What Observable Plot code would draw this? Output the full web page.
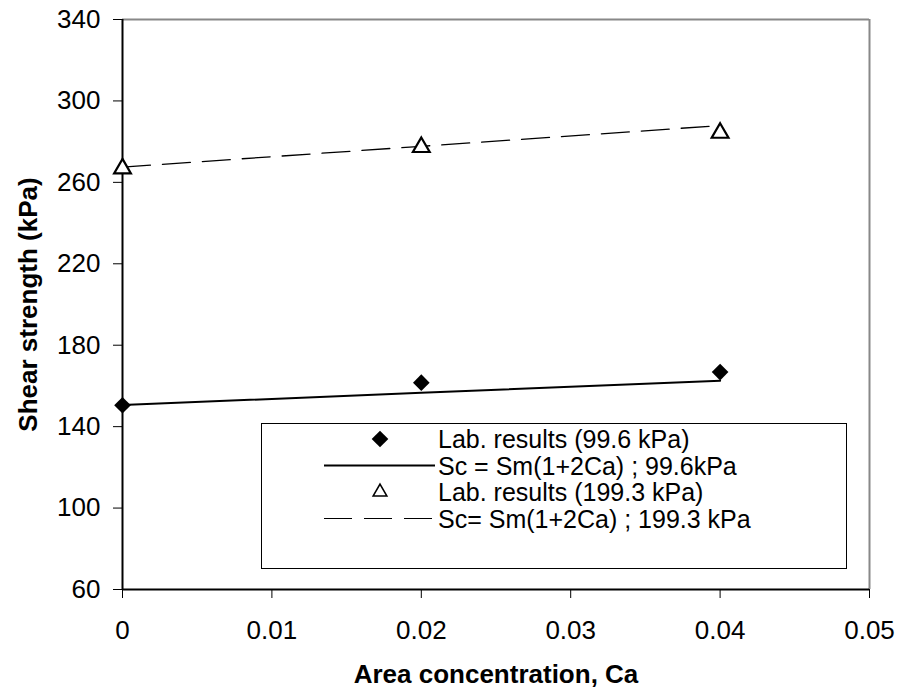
<!DOCTYPE html>
<html>
<head>
<meta charset="utf-8">
<script src="https://cdn.jsdelivr.net/npm/d3@7"></script>
<script src="https://cdn.jsdelivr.net/npm/@observablehq/plot@0.6"></script>
<style>
  body { margin: 0; background: #fff; }
  #wrap { position: relative; width: 902px; height: 700px; font-family: "Liberation Sans", Arial, sans-serif; }
  #legend { position: absolute; left: 261px; top: 423px; width: 586px; height: 146px; border: 1px solid #000; background: #fff; box-sizing: border-box; }
  #legend svg { position: absolute; left: 0; top: 0; }
</style>
</head>
<body>
<div id="wrap"></div>
<script>
// Data
const areaConc = [0, 0.02, 0.04];
const lab996 = [150.5, 161.6, 166.8];
const fit996 = [150.6, 156.6, 162.6];
const lab1993 = [266.8, 277.3, 284.3];
const fit1993 = [267.5, 277.7, 287.9];
const xTicks = [0, 0.01, 0.02, 0.03, 0.04, 0.05];
const xTickLabels = ["0", "0.01", "0.02", "0.03", "0.04", "0.05"];
const yTicks = [60, 100, 140, 180, 220, 260, 300, 340];
const legendLabels = [
  "Lab. results (99.6 kPa)",
  "Sc = Sm(1+2Ca) ; 99.6kPa",
  "Lab. results (199.3 kPa)",
  "Sc= Sm(1+2Ca) ; 199.3 kPa"
];
const xTitle = "Area concentration, Ca";
const yTitle = "Shear strength (kPa)";

const rows = (ys) => areaConc.map((x, i) => ({x, y: ys[i]}));

const chart = Plot.plot({
  width: 902,
  height: 700,
  marginLeft: 122,
  marginRight: 33,
  marginTop: 19,
  marginBottom: 111,
  style: {fontFamily: "Liberation Sans, Arial, sans-serif", fontSize: "26px", color: "#000", background: "#fff", overflow: "visible"},
  x: {domain: [0, 0.05]},
  y: {domain: [60, 340]},
  marks: [
    Plot.axisX({ticks: xTicks, tickFormat: (d, i) => xTickLabels[i], tickSize: 9, tickPadding: 22, label: null, fontSize: 26}),
    Plot.axisY({ticks: yTicks, tickSize: 9, tickPadding: 13, label: null, fontSize: 26}),
    Plot.ruleY([340], {stroke: "#888", strokeWidth: 2}),
    Plot.ruleX([0.05], {stroke: "#888", strokeWidth: 2}),
    Plot.ruleX([0], {stroke: "#000", strokeWidth: 2}),
    Plot.ruleY([60], {stroke: "#000", strokeWidth: 2}),
    Plot.line(rows(fit996), {x: "x", y: "y", stroke: "#000", strokeWidth: 2}),
    Plot.line(rows(fit1993), {x: "x", y: "y", stroke: "#000", strokeWidth: 1.3, strokeDasharray: "28,12"}),
    Plot.dot(rows(lab996), {x: "x", y: "y", symbol: "diamond2", r: 7.5, fill: "#000", stroke: "none"}),
    Plot.dot(rows(lab1993), {x: "x", y: "y", symbol: "triangle2", r: 8, fill: "#fff", stroke: "#000", strokeWidth: 2.2}),
    Plot.text([xTitle], {frameAnchor: "bottom", dy: 93, fontWeight: "bold", fontSize: 26, fill: "#000"}),
    Plot.text([yTitle], {frameAnchor: "left", textAnchor: "middle", rotate: -90, dx: -94, fontWeight: "bold", fontSize: 26, fill: "#000"})
  ]
});

const wrap = document.getElementById("wrap");
wrap.appendChild(chart);

// Legend
const lg = document.createElement("div");
lg.id = "legend";
wrap.appendChild(lg);
const W = 586, H = 146;
const svg = d3.select(lg).append("svg").attr("width", W).attr("height", H);
const rowY = [15, 41.5, 68, 94.5];
const symX = 118;
const txtX = 176;
legendLabels.forEach((t, i) => {
  svg.append("text").attr("x", txtX).attr("y", rowY[i]).attr("dy", "0.36em")
    .attr("font-family", "Liberation Sans, Arial, sans-serif").attr("font-size", 25).attr("fill", "#000").text(t);
});
// diamond
svg.append("path").attr("transform", `translate(${symX},${rowY[0]})`)
  .attr("d", d3.symbol(d3.symbolDiamond2, Math.PI * 7.5 * 7.5)()).attr("fill", "#000");
// solid line
svg.append("line").attr("x1", 62).attr("x2", 173).attr("y1", rowY[1]).attr("y2", rowY[1]).attr("stroke", "#000").attr("stroke-width", 2);
// triangle
svg.append("path").attr("transform", `translate(${symX},${rowY[2]})`)
  .attr("d", d3.symbol(d3.symbolTriangle2, Math.PI * 6.5 * 6.5)()).attr("fill", "#fff").attr("stroke", "#000").attr("stroke-width", 1.6);
// dashed line
svg.append("line").attr("x1", 62).attr("x2", 173).attr("y1", rowY[3]).attr("y2", rowY[3]).attr("stroke", "#000").attr("stroke-width", 1.2).attr("stroke-dasharray", "28,12");
</script>
</body>
</html>
